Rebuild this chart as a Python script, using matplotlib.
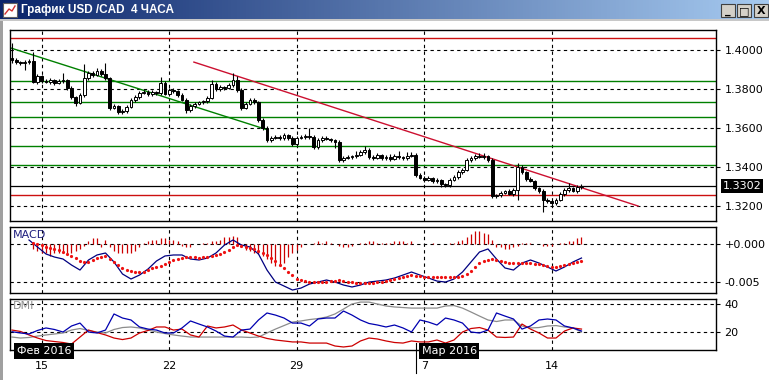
import numpy as np
import matplotlib.pyplot as plt
from matplotlib.patches import Rectangle
from matplotlib.transforms import blended_transform_factory

plt.rcParams['font.family'] = ['DejaVu Sans']

# ---------------- data ----------------
first_open = 1.3960
closes = [1.3949, 1.3938, 1.3933, 1.3938, 1.3944, 1.3836, 1.3867, 1.3841, 1.3836, 1.3846,
          1.3831, 1.3841, 1.3846, 1.3805, 1.3759, 1.3728, 1.3769, 1.3856, 1.3882, 1.3872,
          1.3892, 1.3877, 1.3856, 1.3703, 1.3713, 1.3682, 1.3687, 1.3708, 1.3744, 1.3759,
          1.3779, 1.3785, 1.3774, 1.3785, 1.3779, 1.3831, 1.3774, 1.3795, 1.3790, 1.3769,
          1.3744, 1.3692, 1.3713, 1.3723, 1.3733, 1.3738, 1.3754, 1.3826, 1.3800, 1.3810,
          1.3805, 1.3820, 1.3846, 1.3795, 1.3703, 1.3723, 1.3744, 1.3733, 1.3641, 1.3600,
          1.3538, 1.3549, 1.3554, 1.3549, 1.3564, 1.3549, 1.3518, 1.3549, 1.3554, 1.3559,
          1.3554, 1.3502, 1.3538, 1.3549, 1.3544, 1.3538, 1.3528, 1.3436, 1.3446, 1.3451,
          1.3456, 1.3462, 1.3477, 1.3487, 1.3451, 1.3446, 1.3462, 1.3446, 1.3451, 1.3441,
          1.3456, 1.3451, 1.3446, 1.3456, 1.3462, 1.3359, 1.3344, 1.3333, 1.3344, 1.3328,
          1.3333, 1.3313, 1.3308, 1.3333, 1.3349, 1.3374, 1.3385, 1.3436, 1.3446, 1.3456,
          1.3451, 1.3456, 1.3436, 1.3251, 1.3256, 1.3267, 1.3277, 1.3262, 1.3282, 1.3400,
          1.3374, 1.3338, 1.3328, 1.3292, 1.3277, 1.3231, 1.3226, 1.3215, 1.3231, 1.3262,
          1.3282, 1.3292, 1.3277, 1.3297, 1.3302]
# wicks in pips above body top / below body bottom
wick_up = [76, 8, 6, 10, 8, 47, 10, 6, 8, 10, 6, 8, 36, 6, 8, 5, 10, 72, 12, 8,
           15, 10, 56, 8, 10, 6, 8, 10, 8, 12, 10, 8, 10, 8, 6, 31, 8, 10, 8, 6,
           8, 10, 8, 12, 6, 8, 10, 20, 8, 12, 6, 10, 36, 21, 8, 10, 12, 8, 6, 10,
           8, 10, 12, 8, 10, 6, 8, 12, 8, 10, 41, 8, 10, 8, 12, 6, 8, 10, 8, 12,
           8, 20, 10, 21, 8, 10, 12, 6, 10, 15, 12, 26, 8, 20, 15, 8, 10, 8, 12, 6,
           10, 8, 6, 10, 8, 12, 10, 8, 10, 12, 16, 15, 8, 10, 8, 10, 6, 12, 8, 20,
           10, 8, 10, 6, 8, 10, 8, 6, 10, 8, 12, 26, 8, 10, 12]
wick_dn = [16, 8, 10, 36, 8, 6, 10, 8, 6, 10, 8, 6, 8, 10, 8, 15, 6, 8, 10, 8,
           6, 10, 8, 10, 8, 12, 10, 8, 6, 10, 8, 6, 10, 8, 12, 8, 6, 10, 8, 10,
           8, 15, 10, 8, 6, 10, 8, 6, 10, 8, 12, 6, 8, 10, 12, 8, 6, 10, 8, 12,
           10, 8, 6, 10, 8, 10, 12, 8, 6, 10, 8, 10, 10, 8, 6, 10, 31, 10, 8, 6,
           10, 8, 6, 8, 10, 8, 6, 10, 8, 10, 6, 8, 10, 8, 6, 10, 8, 10, 6, 8,
           10, 16, 10, 8, 6, 10, 8, 6, 10, 8, 6, 8, 10, 12, 8, 10, 6, 8, 10, 51,
           8, 10, 6, 8, 10, 62, 10, 12, 8, 6, 10, 8, 6, 10, 8]

week_bars = [7, 37, 67, 97, 127]
week_labels = ['15', '22', '29', '7', '14']
month_labels = ['Фев 2016', 'Мар 2016']
month_bars = [-0.24, 95.06]

price_ticks = [1.40, 1.38, 1.36, 1.34, 1.32]
green_levels = [1.3841, 1.3733, 1.3656, 1.3508, 1.3410]
red_levels = [1.4062, 1.3256]
last_price = 1.3302
green_trend_bars = [-0.24, 60.2]
green_trend_prices = [1.4010, 1.3590]
red_trend_bars = [42.8, 147.3]
red_trend_prices = [1.3938, 1.3200]

# MACD in units of 1e-4
macd_start = 4          # every 2nd bar
macd_line = [4.6, -4.6, -13.8, -17.8, -20.4, -28.3, -34.9, -21.7, -15.1, -12.5,
             -24.3, -40.1, -46.7, -41.5, -33.6, -23.0, -16.4, -15.1, -15.1, -20.4,
             -21.7, -19.1, -12.5, -2.0, 4.6, -2.0, -4.6, -13.8, -34.9, -50.7,
             -55.9, -61.2, -58.6, -53.3, -50.7, -48.0, -50.7, -54.6, -57.2, -54.6,
             -50.7, -49.4, -48.0, -45.4, -41.5, -37.5, -41.5, -45.4, -49.4, -50.7,
             -46.7, -37.5, -24.3, -11.2, -7.2, -20.4, -32.2, -34.9, -25.7, -21.7,
             -25.7, -30.9, -36.2, -30.9, -24.3, -19.1]
signal_start = 5        # every bar
macd_signal = [0.7, -0.7, -2.6, -4.6, -5.9, -7.2, -8.6, -11.2, -13.8, -15.8,
               -19.1, -23.0, -24.3, -23.7, -21.7, -19.1, -17.8, -16.4, -20.4, -24.3,
               -28.3, -32.2, -34.9, -36.8, -37.5, -37.5, -37.5, -34.9, -32.2, -30.9,
               -29.6, -27.0, -24.3, -21.7, -20.4, -19.1, -17.8, -17.8, -18.4, -19.1,
               -18.4, -17.8, -16.4, -15.1, -13.8, -11.2, -8.6, -4.6, -2.0, -3.3,
               -4.6, -5.9, -7.2, -9.9, -12.5, -15.1, -19.1, -23.0, -28.3, -32.2,
               -37.5, -41.5, -46.7, -48.0, -49.4, -50.7, -50.7, -50.7, -50.7, -50.7,
               -49.4, -49.4, -48.0, -49.4, -50.0, -50.7, -51.3, -52.0, -52.0, -52.0,
               -51.3, -50.7, -50.7, -49.4, -48.0, -46.7, -45.4, -44.1, -42.8, -41.5,
               -42.1, -42.8, -44.1, -44.1, -44.1, -44.1, -44.1, -44.1, -44.1, -44.1,
               -44.1, -42.8, -40.1, -36.2, -30.9, -26.3, -23.0, -21.7, -20.4, -21.7,
               -23.0, -24.3, -25.0, -25.7, -25.7, -25.7, -25.7, -26.3, -27.0, -27.0,
               -28.3, -29.6, -30.9, -30.3, -29.6, -28.3, -27.0, -25.7, -24.3, -23.0]
macd_hist = [-7, -10, -13, -13, -16, -13, -13, -13, -13, -12,
             -10, -7, -3, 3, 7, 7, -4, 5, -5, -10,
             -13, -13, -13, -12, -10, -4, 1, 3, 4, 5,
             7, 7, 5, 4, 3, -3, -4, -4, -1, -1,
             1, 1, 3, 3, 5, 8, 9, 10, 9, -4,
             -8, -10, -12, -14, -17, -21, -25, -29, -29, -25,
             -18, -13, -9, -4, -1, -1, 1, 3, 1, 3,
             1, -1, -3, -4, -4, -3, -1, 1, 1, 3,
             3, 1, 1, 1, 1, 3, 3, 3, 1, 3,
             -1, -1, -1, -1, 1, -1, -1, -1, 1, 1,
             3, 4, 8, 12, 16, 16, 14, 12, 5, -4,
             -5, -7, -7, -5, -3, 1, 1, 1, -1, -1,
             -3, -3, -3, -1, 1, 1, 3, 3, 7, 9]

# DMI, every 2nd bar from bar 0
plus_di = [20.2, 19.3, 18.6, 21.1, 22.9, 21.8, 20.0, 24.3, 26.4, 20.0,
           19.3, 21.4, 32.9, 30.0, 28.6, 23.6, 22.1, 21.4, 19.3, 19.3,
           22.9, 27.9, 25.7, 23.6, 20.7, 17.1, 16.4, 21.4, 22.1, 28.6,
           33.6, 32.1, 30.0, 26.4, 26.4, 24.3, 29.3, 30.0, 30.0, 35.0,
           32.1, 28.6, 26.1, 25.0, 23.6, 25.0, 22.9, 20.0, 28.6, 27.1,
           25.0, 30.0, 28.6, 26.4, 20.0, 19.3, 21.4, 33.6, 31.4, 29.3,
           22.1, 24.3, 28.6, 29.3, 28.6, 24.3, 22.9, 20.7]
minus_di = [21.4, 20.4, 17.9, 15.7, 13.9, 13.2, 12.5, 11.4, 16.4, 21.4,
            19.6, 17.9, 15.7, 14.6, 15.7, 19.3, 21.1, 23.6, 23.6, 21.4,
            22.1, 17.9, 16.4, 24.3, 22.9, 23.6, 25.0, 21.4, 19.3, 17.1,
            15.4, 14.3, 13.6, 12.9, 12.9, 12.1, 12.1, 12.1, 10.0, 9.3,
            10.0, 13.6, 15.7, 15.0, 13.6, 12.5, 12.1, 13.6, 12.9, 12.9,
            14.3, 12.1, 14.3, 20.0, 22.5, 23.2, 21.4, 16.4, 16.1, 16.4,
            25.7, 22.1, 19.3, 15.7, 15.7, 20.7, 22.9, 22.1]
adx = [16.4, 15.7, 16.1, 17.1, 17.9, 18.6, 19.3, 21.4, 22.5, 21.1,
       20.0, 19.3, 21.8, 23.2, 23.6, 22.9, 21.4, 20.0, 18.9, 17.9,
       17.1, 16.4, 16.4, 16.4, 16.4, 16.4, 16.4, 16.4, 16.1, 16.4,
       19.3, 22.1, 24.6, 27.1, 27.9, 28.9, 29.6, 30.7, 32.9, 36.4,
       40.0, 41.4, 41.4, 40.0, 38.6, 37.9, 37.5, 37.1, 37.1, 37.1,
       37.1, 38.6, 38.9, 37.1, 34.3, 31.4, 28.6, 27.5, 28.6, 28.6,
       24.3, 22.9, 23.2, 24.3, 24.6, 23.6, 22.9, 20.0]

# ---------------- figure ----------------
W, H = 769, 380
fig = plt.figure(figsize=(W / 100, H / 100), dpi=100)
fig.patch.set_facecolor('white')


def px_axes(l, t, r, b):
    return fig.add_axes([l / W, 1 - b / H, (r - l) / W, (b - t) / H])


XLIM = (-0.47, 165.65)
DASH = (0, (3, 3))
pip = 0.0001


def style_panel(ax, ticks, labels, ylim):
    ax.set_xlim(XLIM)
    ax.set_ylim(ylim)
    ax.yaxis.tick_right()
    ax.set_yticks(ticks)
    ax.set_yticklabels(labels)
    ax.tick_params(axis='y', direction='out', length=3, width=0.8, pad=3,
                   labelsize=8, colors='black')
    ax.set_xticks([])
    for b in week_bars:
        ax.axvline(b, color='black', lw=0.8, ls=DASH, zorder=1)
    for t in ticks:
        ax.axhline(t, color='black', lw=0.8, ls=DASH, zorder=1)
    for s in ax.spines.values():
        s.set_linewidth(1.0)
        s.set_zorder(6)


# title bar
tb = px_axes(0, 0, W, 19)
grad = np.linspace(0, 1, 256)[None, :, None]
c0 = np.array([10, 36, 106]) / 255
c1 = np.array([166, 202, 240]) / 255
tb.imshow(c0 + (c1 - c0) * grad, aspect='auto', extent=(0, 1, 0, 1))
tb.set_xlim(0, 1)
tb.set_ylim(0, 1)
tb.axis('off')
fig.text(21 / W, 1 - 10 / H, 'График USD /CAD  4 ЧАСА', color='white',
         fontsize=8.5, fontweight='bold', family='Liberation Sans', va='center')
# icon
fig.patches.append(Rectangle((3 / W, 1 - 17 / H), 14 / W, 14 / H, transform=fig.transFigure,
                             facecolor='white', edgecolor='#606060', lw=0.8))
fig.lines.append(plt.Line2D([5 / W, 9 / W, 12 / W, 15 / W],
                            [1 - 14 / H, 1 - 9 / H, 1 - 11 / H, 1 - 6 / H],
                            transform=fig.transFigure, color='#d03030', lw=1))
# window buttons
for bx, glyph in zip([721, 737, 754], ['_', '□', 'X']):
    fig.patches.append(Rectangle((bx / W, 1 - 17 / H), 14 / W, 13 / H,
                                 transform=fig.transFigure, facecolor='#d4d0c8',
                                 edgecolor='#404040', lw=0.8))
    fig.text((bx + 7) / W, 1 - 11 / H, glyph, fontsize=8, fontweight='bold',
             ha='center', va='center', color='black')
# left window border
fig.patches.append(Rectangle((0, 0), 3 / W, 1 - 19 / H, transform=fig.transFigure,
                             facecolor='#a0a0a0', edgecolor='none'))
fig.patches.append(Rectangle((0, 1 - 21 / H), 1, 2 / H, transform=fig.transFigure,
                             facecolor='#c8c8c8', edgecolor='none'))

# ---------------- price panel ----------------
ax = px_axes(10, 30, 716, 221)
style_panel(ax, price_ticks, ['%.4f' % p for p in price_ticks], (1.31231, 1.41026))

for lv in green_levels:
    ax.axhline(lv, color='#008000', lw=1, zorder=2)
for lv in red_levels:
    ax.axhline(lv, color='#cc1010', lw=1, zorder=2)
ax.axhline(last_price, color='black', lw=0.9, zorder=2)
ax.plot(green_trend_bars, green_trend_prices, color='#008000', lw=1, zorder=2)
ax.plot(red_trend_bars, red_trend_prices, color='#cc1030', lw=1, zorder=2)

opens = [first_open] + closes[:-1]
bars = np.arange(len(closes))
tops = np.maximum(opens, closes)
bots = np.minimum(opens, closes)
ax.vlines(bars, bots - np.array(wick_dn) * pip, tops + np.array(wick_up) * pip,
          color='black', lw=0.8, zorder=3)
body_col = ['black' if c < o else 'white' for o, c in zip(opens, closes)]
ax.bar(bars, np.maximum(tops - bots, 0.00004), bottom=bots, width=0.7,
       color=body_col, edgecolor='black', linewidth=0.7, zorder=4)

ax.text(1.0099, last_price, '%.4f' % last_price, transform=blended_transform_factory(ax.transAxes, ax.transData),
        color='white', fontsize=8, ha='left', va='center',
        bbox=dict(boxstyle='square,pad=0.15', fc='black', ec='none'), clip_on=False)

# ---------------- MACD panel ----------------
am = px_axes(10, 227, 716, 293)
style_panel(am, [0.0, -0.005], ['+0.000', '-0.005'], (-0.00651, 0.00217))
hx = np.arange(signal_start, signal_start + len(macd_hist))
am.vlines(hx, 0, np.array(macd_hist) * 1e-4, color='#cc0000', lw=0.9, zorder=3)
mx = np.arange(macd_start, macd_start + 2 * len(macd_line), 2)
am.plot(mx, np.array(macd_line) * 1e-4, color='#000080', lw=0.9, zorder=4)
sx = np.arange(signal_start, signal_start + len(macd_signal))
am.plot(sx, np.array(macd_signal) * 1e-4, ls='none', marker='o', ms=2.3,
        mfc='#ee1111', mec='none', zorder=5)
am.text(0.004, 0.96, 'MACD', transform=am.transAxes, color='#202080', fontsize=8, va='top')

# ---------------- DMI panel ----------------
ad = px_axes(10, 299, 716, 350)
style_panel(ad, [40, 20], ['40', '20'], (7.14, 43.6))
dx = np.arange(0, 2 * len(adx), 2)
ad.plot(dx, adx, color='#8c8c8c', lw=0.9, zorder=3)
ad.plot(dx, minus_di, color='#cc0000', lw=0.9, zorder=4)
ad.plot(dx, plus_di, color='#0000b0', lw=0.9, zorder=5)
ad.text(0.004, 0.96, 'DMI', transform=ad.transAxes, color='#909090', fontsize=8, va='top')
ad.set_xticks(week_bars)
ad.set_xticklabels(week_labels)
ad.tick_params(axis='x', length=0, pad=8, labelsize=8)

bt = blended_transform_factory(ad.transData, ad.transAxes)
for mb, ml in zip(month_bars, month_labels):
    ad.text(mb + 1.3, -0.02, ml, transform=bt, color='white', fontsize=8,
            ha='left', va='center', zorder=10, clip_on=False,
            bbox=dict(boxstyle='square,pad=0.25', fc='black', ec='none'))
ad.plot([month_bars[1], month_bars[1]], [0.137, -0.45], transform=bt,
        color='black', lw=0.8, clip_on=False, zorder=10)

fig.savefig('out.png', dpi=100)
